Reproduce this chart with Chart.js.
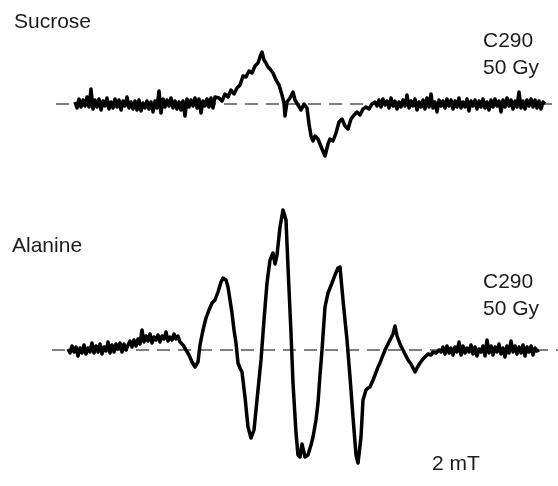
<!DOCTYPE html>
<html>
<head>
<meta charset="utf-8">
<script src="https://cdn.jsdelivr.net/npm/chart.js@4/dist/chart.umd.min.js"></script>
<style>
  html, body { margin: 0; padding: 0; background: #fff; }
  canvas { display: block; }
</style>
</head>
<body>
<canvas id="epr" width="558" height="486"></canvas>
<script>
// field position (arbitrary units) and signal amplitude (a.u., 0 = baseline)
// sucrose: low-field noise, signal, high-field noise
const sucroseFieldLow = [75, 77, 79, 81, 83, 85, 87, 89, 91, 93, 95, 97, 99, 101, 103, 105, 107, 109, 111, 113, 115, 117, 119, 121, 123, 125, 127, 129, 131, 133, 135, 137, 139, 141, 143, 145, 147, 149, 151, 153, 155, 157, 159, 161, 163, 165, 167, 169, 171, 173, 175, 177, 179, 181, 183, 185, 187, 189, 191, 193, 195, 197, 199, 201, 203, 205, 207, 209, 211, 213, 215];
const sucroseLow = [2, -4, 5, -3, 4, -2, 7, -3, 15, -5, 4, -3, 5, -6, 3, -2, 6, -5, 2, -4, 5, -3, 4, -6, 3, -2, 7, -4, 2, -5, 3, -6, 4, -7, 1, -4, 3, -5, 2, -8, 3, -4, 13, -9, 5, -3, 4, -2, 6, -4, 3, -5, 2, -6, 3, -12, 5, -3, 4, -2, 6, -4, 5, -9, 3, -2, 5, -3, 6, -4, 7];
const sucroseFieldMid = [219, 222, 225, 228, 231, 234, 237, 240, 243, 246, 249, 252, 255, 258, 260, 262, 264, 266, 268, 270, 273, 276, 279, 282, 284, 285, 287, 290, 293, 295, 298, 301, 304, 307, 309, 311, 313, 315, 318, 320, 322, 325, 328, 330, 333, 336, 339, 342, 345, 348, 351, 354, 357, 360, 363, 366, 369, 372, 375];
const sucroseMid = [6, 3, 10, 7, 14, 10, 16, 19, 28, 27, 33, 31, 38, 41, 47, 52, 44, 41, 37, 35, 31, 24, 19, 9, 1, -12, 2, 6, 12, 4, -1, -6, 0, -4, -20, -32, -37, -32, -35, -40, -45, -52, -40, -35, -37, -29, -18, -15, -22, -25, -15, -11, -8, -11, -5, -3, -5, 0, 2];
const sucroseFieldHigh = [377, 379, 381, 383, 385, 387, 389, 391, 393, 395, 397, 399, 401, 403, 405, 407, 409, 411, 413, 415, 417, 419, 421, 423, 425, 427, 429, 431, 433, 435, 437, 439, 441, 443, 445, 447, 449, 451, 453, 455, 457, 459, 461, 463, 465, 467, 469, 471, 473, 475, 477, 479, 481, 483, 485, 487, 489, 491, 493, 495, 497, 499, 501, 503, 505, 507, 509, 511, 513, 515, 517, 519, 521, 523, 525, 527, 529, 531, 533, 535, 537, 539, 541, 543, 545];
const sucroseHigh = [-2, 4, -3, 5, -1, 3, -4, 6, -2, 3, -5, 2, -3, 4, -2, 9, -4, 3, -2, 5, -6, 2, -3, 4, -5, 6, -3, 10, -4, 2, -8, 4, -2, 3, -4, 5, -2, 4, -5, 3, -3, 6, -4, 2, -3, 5, -7, 3, -2, 4, -5, 3, -3, 5, -4, 2, -6, 4, -3, 5, -2, 3, -8, 4, -3, 6, -2, 4, -5, 3, -3, 12, -4, 3, -5, 4, -2, 5, -3, 4, -4, 3, -5, 2, 0];

// alanine: low-field noise, five-line spectrum, high-field noise
const alanineFieldLow = [68, 70, 72, 74, 76, 78, 80, 82, 84, 86, 88, 90, 92, 94, 96, 98, 100, 102, 104, 106, 108, 110, 112, 114, 116, 118, 120, 122, 124, 126, 128, 130, 132, 134, 136, 138, 140, 142, 144, 146, 148, 150, 152, 154, 156, 158, 160, 162, 164, 166, 168, 170, 172, 174, 176, 178, 180];
const alanineLow = [1, -3, 4, -2, 3, -6, 2, -3, 5, -4, 2, -2, 7, -3, 4, -2, 6, -4, 3, -1, 8, -3, 5, -2, 6, 1, 7, -2, 6, 0, 5, 9, 3, 10, 4, 11, 6, 20, 8, 14, 9, 16, 7, 13, 10, 15, 8, 14, 11, 18, 9, 13, 10, 16, 11, 14, 8];
const alanineFieldMid = [183, 186, 189, 192, 195, 198, 200, 203, 206, 209, 212, 215, 218, 221, 223, 226, 228, 230, 232, 234, 236, 238, 240, 242, 245, 248, 251, 254, 257, 261, 264, 267, 270, 273, 275, 277, 280, 283, 286, 288, 291, 293, 296, 298, 300, 302, 305, 308, 311, 313, 316, 318, 320, 322, 325, 328, 332, 335, 338, 340, 343, 347, 350, 353, 356, 358, 361, 363, 366, 368, 370, 373, 375, 378, 380, 383, 385, 388, 390, 393, 395, 397, 400, 403, 406, 408, 411, 413, 415, 417, 420, 423, 425, 428, 431, 433, 436, 439];
const alanineMid = [5, 0, -5, -12, -17, -12, 5, 20, 32, 40, 47, 50, 58, 68, 72, 70, 63, 50, 37, 20, 7, -13, -18, -22, -47, -77, -88, -80, -50, -10, 30, 67, 90, 97, 86, 95, 123, 140, 130, 83, 17, -33, -83, -105, -107, -94, -107, -105, -95, -87, -70, -53, -25, 0, 43, 57, 67, 75, 82, 83, 50, 10, -27, -67, -105, -113, -87, -50, -40, -38, -37, -30, -25, -17, -13, -5, 0, 6, 10, 16, 24, 14, 6, 0, -6, -10, -14, -18, -22, -18, -13, -9, -7, -4, -5, -2, -3, 0];
const alanineFieldHigh = [441, 443, 445, 447, 449, 451, 453, 455, 457, 459, 461, 463, 465, 467, 469, 471, 473, 475, 477, 479, 481, 483, 485, 487, 489, 491, 493, 495, 497, 499, 501, 503, 505, 507, 509, 511, 513, 515, 517, 519, 521, 523, 525, 527, 529, 531, 533, 535, 537, 539];
const alanineHigh = [-2, 3, -4, 4, -3, 2, -5, 3, -2, 8, -5, 4, -3, 2, -2, 5, -4, 3, -6, 1, -2, 4, -6, 10, -3, 4, -5, 3, -2, 6, -4, 2, -7, 4, -3, 9, -2, 4, -4, 3, -3, 5, -6, 3, -2, 4, -5, 2, -1, 0];

const baselineSpan = [[56, 558], [52, 558]];
const labels = [
  { text: 'Sucrose', x: 14, y: 28 },
  { text: 'C290', x: 483, y: 47 },
  { text: '50 Gy', x: 483, y: 74 },
  { text: 'Alanine', x: 12, y: 252 },
  { text: 'C290', x: 483, y: 288 },
  { text: '50 Gy', x: 483, y: 315 },
  { text: '2 mT', x: 432, y: 470 }
];

const toPoints = (xs, ys) => xs.map((x, i) => ({ x: x, y: ys[i] }));

const sucrose = toPoints(sucroseFieldLow.concat(sucroseFieldMid, sucroseFieldHigh), sucroseLow.concat(sucroseMid, sucroseHigh));
const alanine = toPoints(alanineFieldLow.concat(alanineFieldMid, alanineFieldHigh), alanineLow.concat(alanineMid, alanineHigh));

const textPlugin = {
  id: 'panelText',
  afterDraw(chart) {
    const ctx = chart.ctx;
    ctx.save();
    ctx.fillStyle = '#1c1c1c';
    ctx.font = '21px "Liberation Sans", Arial, sans-serif';
    ctx.textAlign = 'left';
    ctx.textBaseline = 'alphabetic';
    labels.forEach(l => ctx.fillText(l.text, l.x, l.y));
    ctx.restore();
  }
};

const trace = (data, axis) => ({
  data: data,
  yAxisID: axis,
  borderColor: '#000',
  borderWidth: 3.5,
  pointRadius: 0,
  tension: 0,
  borderJoinStyle: 'round',
  fill: false
});

const dashed = (span, axis) => ({
  data: [{ x: span[0], y: 0 }, { x: span[1], y: 0 }],
  yAxisID: axis,
  borderColor: '#555',
  borderWidth: 1.5,
  borderDash: [13, 8],
  pointRadius: 0,
  fill: false
});

new Chart(document.getElementById('epr'), {
  type: 'line',
  data: {
    datasets: [
      trace(sucrose, 'ySuc'),
      trace(alanine, 'yAla'),
      dashed(baselineSpan[0], 'ySuc'),
      dashed(baselineSpan[1], 'yAla')
    ]
  },
  options: {
    responsive: false,
    animation: false,
    devicePixelRatio: 1,
    layout: { padding: 0 },
    scales: {
      x: { type: 'linear', min: 0, max: 558, display: false },
      ySuc: { type: 'linear', min: -382, max: 104, display: false },
      yAla: { type: 'linear', min: -136, max: 350, display: false }
    },
    plugins: {
      legend: { display: false },
      tooltip: { enabled: false }
    }
  },
  plugins: [textPlugin]
});
</script>
</body>
</html>
